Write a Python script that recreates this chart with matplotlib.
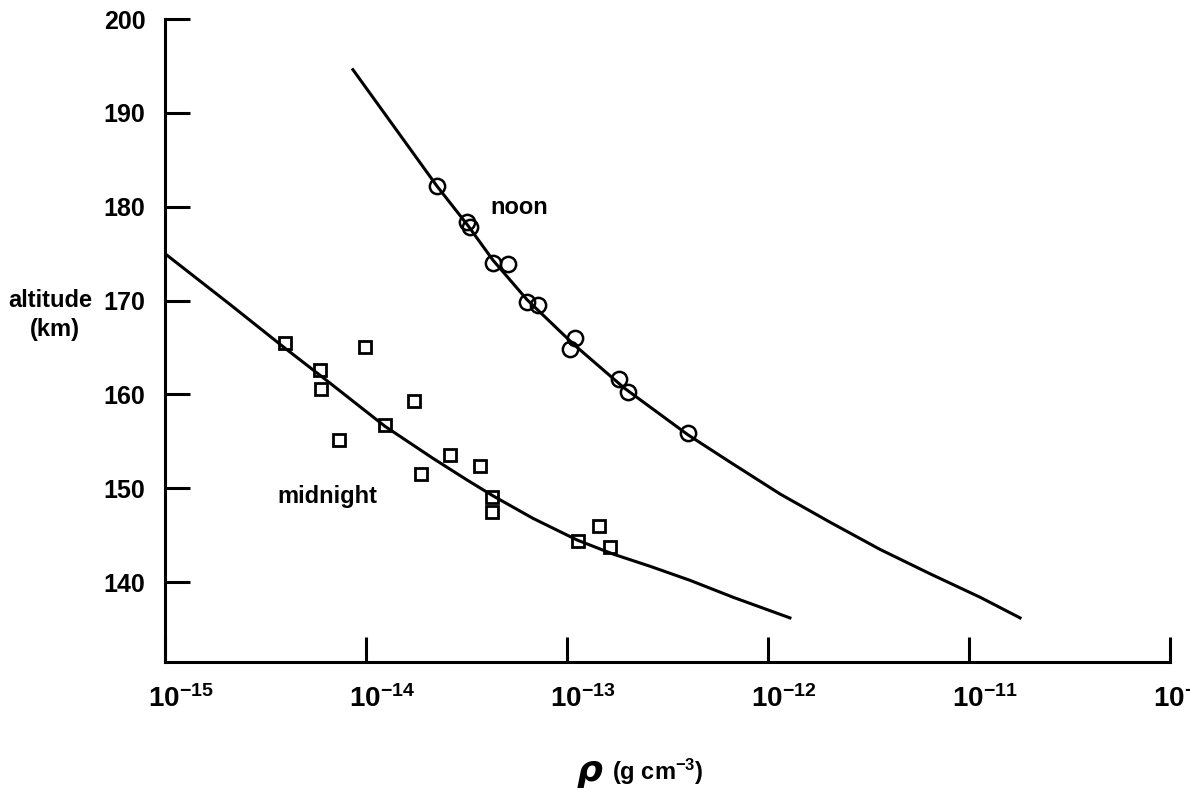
import matplotlib
matplotlib.use('Agg')
import matplotlib.pyplot as plt
import matplotlib.transforms as mtransforms
import numpy as np

# log10 of density (g cm^-3) and altitude (km)
noon_lg = [-13.647, -13.498, -13.483, -13.368, -13.294, -13.199, -13.144,
           -12.960, -12.985, -12.741, -12.697, -12.398]
noon_alt = [182.2, 178.4, 177.8, 174.0, 173.9, 169.9, 169.5,
            166.0, 164.8, 161.6, 160.3, 155.9]

midnight_lg = [-14.403, -14.229, -14.224, -14.005, -13.761, -14.134, -13.905,
               -13.582, -13.726, -13.433, -13.373, -13.373, -12.945, -12.841, -12.786]
midnight_alt = [165.5, 162.6, 160.6, 165.1, 159.3, 155.1, 156.7,
                153.6, 151.5, 152.4, 149.1, 147.5, 144.4, 146.0, 143.7]

noon_curve_lg = [-14.065, -13.647, -13.493, -13.368, -13.199, -12.970, -12.716, -12.398,
                 -12.189, -11.940, -11.692, -11.443, -11.194, -10.945, -10.746]
noon_curve_alt = [194.6, 182.2, 178.0, 174.3, 170.1, 165.4, 160.7, 155.7,
                  152.8, 149.4, 146.4, 143.5, 140.9, 138.4, 136.2]

midnight_curve_lg = [-15.0, -14.677, -14.413, -14.214, -13.905, -13.667, -13.498, -13.368,
                     -13.169, -12.950, -12.771, -12.587, -12.388, -12.174, -11.891]
midnight_curve_alt = [175.0, 169.6, 165.1, 161.8, 156.6, 153.2, 150.9, 149.2,
                      146.8, 144.5, 143.0, 141.7, 140.2, 138.4, 136.2]

x_ticks = [1e-15, 1e-14, 1e-13, 1e-12, 1e-11, 1e-10]
x_labels = ['$10^{-15}$', '$10^{-14}$', '$10^{-13}$', '$10^{-12}$', '$10^{-11}$', '$10^{-10}$']
y_ticks = [140, 150, 160, 170, 180, 190, 200]

plt.rcParams['font.family'] = ['Liberation Sans', 'DejaVu Sans']
plt.rcParams['font.weight'] = 'bold'
plt.rcParams['mathtext.fontset'] = 'custom'
plt.rcParams['mathtext.rm'] = 'Liberation Sans:bold'
plt.rcParams['mathtext.it'] = 'Liberation Sans:bold:italic'
plt.rcParams['mathtext.bf'] = 'Liberation Sans:bold'
plt.rcParams['mathtext.default'] = 'rm'

fig = plt.figure(figsize=(11.9, 7.91), dpi=100)
ax = fig.add_axes([165 / 1190, 129 / 791, 1005 / 1190, 643 / 791])

ax.plot(10 ** np.array(noon_curve_lg), noon_curve_alt, color='black', lw=2.2)
ax.plot(10 ** np.array(midnight_curve_lg), midnight_curve_alt, color='black', lw=2.2)
ax.plot(10 ** np.array(noon_lg), noon_alt, 'o', ms=11, mfc='none', mec='black', mew=1.8)
ax.plot(10 ** np.array(midnight_lg), midnight_alt, 's', ms=9, mfc='none', mec='black', mew=2.0)

ax.set_xscale('log')
ax.set_xlim(1e-15, 1e-10)
ax.set_ylim(131.5, 200)
ax.set_xticks(x_ticks)
ax.set_xticklabels(x_labels)
ax.minorticks_off()
ax.set_yticks(y_ticks)

for s in ['top', 'right']:
    ax.spines[s].set_visible(False)
for s in ['left', 'bottom']:
    ax.spines[s].set_linewidth(2.2)

ax.tick_params(axis='both', direction='in', length=18, width=2.2)
ax.tick_params(axis='x', pad=17, labelsize=20)
ax.tick_params(axis='y', pad=14, labelsize=18)

# the "10" sits roughly on the tick, the exponent hangs to the right
shift = mtransforms.ScaledTranslation(-0.17, 0, fig.dpi_scale_trans)
for lab in ax.get_xticklabels():
    lab.set_horizontalalignment('left')
    lab.set_transform(lab.get_transform() + shift)

ax.text(10 ** -13.239, 179.9, 'noon', fontsize=17, ha='center', va='center')
ax.text(10 ** -14.194, 149.1, 'midnight', fontsize=17, ha='center', va='center')

fig.text(8 / 1190, 1 - 301 / 791, 'altitude', fontsize=17, ha='left', va='center')
fig.text(55 / 1190, 1 - 330 / 791, '(km)', fontsize=17, ha='center', va='center')

fig.text(590 / 1190, 1 - 771 / 791, '\u03c1', fontsize=26, ha='center', va='center',
         family=['DejaVu Sans'], style='italic', weight='bold')
fig.text(612 / 1190, 1 - 772 / 791, r'(g cm$^{-3}$)', fontsize=17, ha='left', va='center')

fig.savefig('out.png', dpi=100)
